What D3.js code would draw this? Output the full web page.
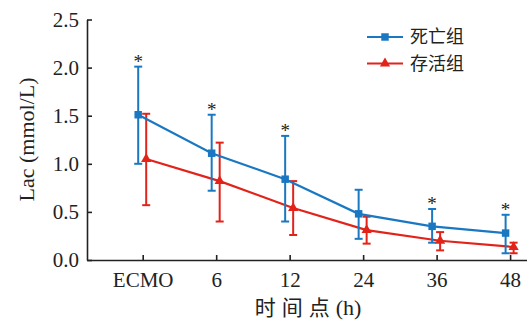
<!DOCTYPE html>
<html>
<head>
<meta charset="utf-8">
<script src="https://cdn.jsdelivr.net/npm/d3@7"></script>
<style>
  body { margin: 0; background: #fff; }
  svg text { font-family: "Liberation Serif", "Noto Sans CJK SC", serif; fill: #222; }
</style>
</head>
<body>
<div id="chart"></div>
<script>
"use strict"

// data
let categories = ["ECMO", "6", "12", "24", "36", "48"];
let yTicks = [0, 0.5, 1.0, 1.5, 2.0, 2.5];
let deadMean = [1.51, 1.11, 0.84, 0.48, 0.35, 0.28];
let deadHi = [2.01, 1.51, 1.29, 0.73, 0.53, 0.47];
let deadLo = [1.00, 0.72, 0.40, 0.22, 0.18, 0.07];
let aliveMean = [1.05, 0.82, 0.54, 0.31, 0.20, 0.135];
let aliveHi = [1.52, 1.22, 0.82, 0.45, 0.29, 0.18];
let aliveLo = [0.57, 0.40, 0.26, 0.17, 0.10, 0.07];
let starred = [true, true, true, false, true, true];
let seriesNames = ["死亡组", "存活组"];

let blue = "#1a78c2";
let red = "#e2231a";

let drawing = d3.select("#chart")
    .append("svg")
    .attr("width", 527)
    .attr("height", 323);

let axisLeftX = 87;
let axisBottomY = 260;

/* x is a linear scale over the category index so the axis runs past both ends */
let x = d3.scaleLinear()
    .domain([-0.758, 5.23])
    .range([axisLeftX, 527]);

let y = d3.scaleLinear()
    .domain([0, 2.5])
    .range([axisBottomY, 19.5]);

// axes
let xAxis = drawing.append("g")
    .attr("transform", "translate(0," + axisBottomY + ")")
    .call(d3.axisBottom(x)
        .tickValues(d3.range(categories.length))
        .tickFormat(i => categories[i])
        .tickSizeInner(-5)
        .tickSizeOuter(0)
        .tickPadding(12));

let yAxis = drawing.append("g")
    .attr("transform", "translate(" + axisLeftX + ",0)")
    .call(d3.axisLeft(y)
        .tickValues(yTicks)
        .tickFormat(d3.format(".1f"))
        .tickSizeInner(-5)
        .tickSizeOuter(0)
        .tickPadding(8));

drawing.selectAll(".domain, .tick line")
    .attr("stroke", "#222")
    .attr("stroke-width", 1.6);
drawing.selectAll(".tick text")
    .attr("font-family", "Liberation Serif")
    .attr("font-size", 21)
    .attr("fill", "#222");

// axis titles
drawing.append("text")
    .attr("transform", "translate(34,139.5) rotate(-90)")
    .attr("text-anchor", "middle")
    .attr("font-size", 22)
    .text("Lac (mmol/L)");

let xTitle = drawing.append("text")
    .attr("x", 308)
    .attr("y", 315)
    .attr("text-anchor", "middle");
xTitle.append("tspan")
    .attr("font-family", "Noto Sans CJK SC")
    .attr("font-size", 21)
    .attr("letter-spacing", 6)
    .text("时间点");
xTitle.append("tspan")
    .attr("font-size", 22)
    .text("(h)");

// one series: error bars, line, markers
function drawSeries(mean, lo, hi, offset, color, symbol, symSize) {
    let g = drawing.append("g");
    let idx = d3.range(mean.length);
    let px = i => x(i) + offset;

    g.selectAll(".bar").data(idx).enter().append("line")
        .attr("x1", px).attr("x2", px)
        .attr("y1", i => y(lo[i])).attr("y2", i => y(hi[i]))
        .attr("stroke", color).attr("stroke-width", 2);
    g.selectAll(".capHi").data(idx).enter().append("line")
        .attr("x1", i => px(i) - 4).attr("x2", i => px(i) + 4)
        .attr("y1", i => y(hi[i])).attr("y2", i => y(hi[i]))
        .attr("stroke", color).attr("stroke-width", 2);
    g.selectAll(".capLo").data(idx).enter().append("line")
        .attr("x1", i => px(i) - 4).attr("x2", i => px(i) + 4)
        .attr("y1", i => y(lo[i])).attr("y2", i => y(lo[i]))
        .attr("stroke", color).attr("stroke-width", 2);

    let line = d3.line()
        .x(i => px(i))
        .y(i => y(mean[i]));
    g.append("path")
        .attr("d", line(idx))
        .attr("fill", "none")
        .attr("stroke", color)
        .attr("stroke-width", 2.2);

    g.selectAll(".mark").data(idx).enter().append("path")
        .attr("transform", i => "translate(" + px(i) + "," + y(mean[i]) + ")")
        .attr("d", d3.symbol().type(symbol).size(symSize))
        .attr("fill", color);
}

drawSeries(aliveMean, aliveLo, aliveHi, 3.5, red, d3.symbolTriangle, 45);
drawSeries(deadMean, deadLo, deadHi, -4.5, blue, d3.symbolSquare, 56);

// significance marks above the 死亡组 error bars
drawing.selectAll(".star").data(d3.range(categories.length).filter(i => starred[i])).enter()
    .append("text")
    .attr("x", i => x(i) - 4.5)
    .attr("y", i => y(deadHi[i]) + 1)
    .attr("text-anchor", "middle")
    .attr("font-size", 19)
    .text("*");

// legend
let legend = drawing.append("g");
let legendRows = [
    { name: seriesNames[0], color: blue, symbol: d3.symbolSquare, size: 56 },
    { name: seriesNames[1], color: red, symbol: d3.symbolTriangle, size: 45 }
];
legendRows.forEach((row, k) => {
    let ly = 37 + k * 26.5;
    legend.append("line")
        .attr("x1", 367).attr("x2", 403)
        .attr("y1", ly).attr("y2", ly)
        .attr("stroke", row.color).attr("stroke-width", 2.2);
    legend.append("path")
        .attr("transform", "translate(385," + ly + ")")
        .attr("d", d3.symbol().type(row.symbol).size(row.size))
        .attr("fill", row.color);
    legend.append("text")
        .attr("x", 410)
        .attr("y", ly)
        .attr("dy", "0.36em")
        .attr("font-family", "Noto Sans CJK SC")
        .attr("font-size", 18)
        .text(row.name);
});
</script>
</body>
</html>
